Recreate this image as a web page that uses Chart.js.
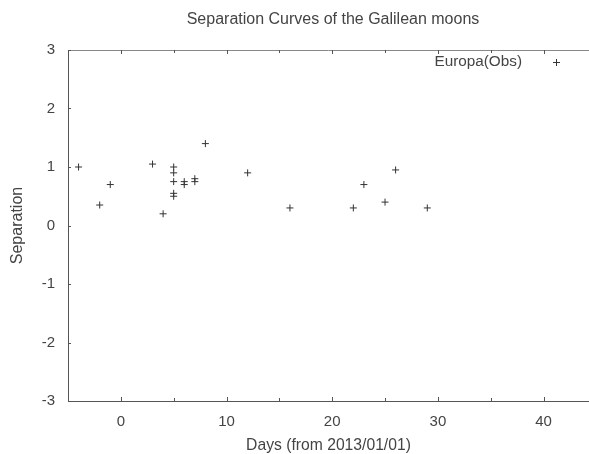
<!DOCTYPE html>
<html><head><meta charset="utf-8">
<script src="https://cdn.jsdelivr.net/npm/chart.js@4"></script>
<style>html,body{margin:0;padding:0;background:#fff}#wrap{width:589px;height:454px}</style>
</head><body><div id="wrap"><canvas id="c" width="589" height="454"></canvas></div>
<script>
const titleText = "Separation Curves of the Galilean moons";
const seriesName = "Europa(Obs)";
const xTitle = "Days (from 2013/01/01)";
const yTitle = "Separation";
const days = [-4, -2, -1, 3, 4, 5, 5, 5, 5, 5, 6, 6, 7, 7, 8, 12, 16, 22, 23, 25, 26, 29];
const separation = [1.0, 0.35, 0.7, 1.05, 0.2, 1.0, 0.9, 0.75, 0.55, 0.5, 0.75, 0.7, 0.8, 0.75, 1.4, 0.9, 0.3, 0.3, 0.7, 0.4, 0.95, 0.3];
const xTicks = [-5, 0, 5, 10, 15, 20, 25, 30, 35, 40];
const xLabeled = [0, 10, 20, 30, 40];
const yTicks = [-3, -2, -1, 0, 1, 2, 3];

const FONT = "'Liberation Sans', Arial, sans-serif";
const TXT = '#444';
const AX = '#555';

const overlay = {
  id: 'overlay',
  afterDraw(chart) {
    const ctx = chart.ctx, a = chart.chartArea;
    const xs = chart.scales.x, ys = chart.scales.y;
    ctx.save();
    ctx.strokeStyle = '#888';
    ctx.lineWidth = 1;
    ctx.beginPath();
    ctx.moveTo(a.left, a.top + 0.5); ctx.lineTo(a.right, a.top + 0.5);
    ctx.stroke();
    ctx.strokeStyle = AX;
    ctx.beginPath();
    xTicks.forEach(v => {
      const px = Math.round(xs.getPixelForValue(v)) + 0.5;
      const len = xLabeled.includes(v) ? 4 : 3;
      ctx.moveTo(px, a.bottom); ctx.lineTo(px, a.bottom - len);
      ctx.moveTo(px, a.top); ctx.lineTo(px, a.top + len);
    });
    yTicks.forEach(v => {
      const py = Math.round(ys.getPixelForValue(v)) + 0.5;
      ctx.moveTo(a.left, py); ctx.lineTo(a.left + 3, py);
    });
    ctx.stroke();
    ctx.fillStyle = TXT;
    ctx.font = '16px ' + FONT;
    ctx.textAlign = 'center';
    ctx.textBaseline = 'middle';
    ctx.fillText(titleText, 333, 20);
    ctx.font = '15.3px ' + FONT;
    ctx.textAlign = 'right';
    ctx.fillText(seriesName, 522, 62);
    ctx.strokeStyle = '#333';
    ctx.beginPath();
    ctx.moveTo(553, 62.5); ctx.lineTo(560, 62.5);
    ctx.moveTo(556.5, 59); ctx.lineTo(556.5, 66);
    ctx.stroke();
    ctx.restore();
  }
};

new Chart(document.getElementById('c'), {
  type: 'scatter',
  data: {
    datasets: [{
      label: seriesName,
      data: days.map((d, i) => ({ x: d, y: separation[i] })),
      pointStyle: 'cross',
      pointRadius: 3.5,
      pointBorderWidth: 1,
      borderColor: '#333',
      backgroundColor: '#333'
    }]
  },
  options: {
    responsive: false,
    animation: false,
    devicePixelRatio: 1,
    layout: { autoPadding: false, padding: { top: 50, left: 0, right: 0, bottom: 0 } },
    plugins: { legend: { display: false }, title: { display: false }, tooltip: { enabled: false } },
    scales: {
      x: {
        type: 'linear', min: -5, max: 44.3,
        afterBuildTicks: s => { s.ticks = xTicks.map(v => ({ value: v })); },
        afterFit: s => { s.height = 53; s.paddingLeft = 0; s.paddingRight = 0; },
        ticks: {
          autoSkip: false, maxRotation: 0, padding: 12, color: TXT,
          font: { family: FONT, size: 15 },
          callback: v => xLabeled.includes(v) ? String(v) : ''
        },
        grid: { display: true, drawOnChartArea: false, drawTicks: false },
        border: { display: true, color: AX, width: 1 },
        title: { display: true, text: xTitle, color: TXT, font: { family: FONT, size: 15.7, lineHeight: 1.0 }, padding: { top: 0, bottom: 0 } }
      },
      y: {
        type: 'linear', min: -3, max: 3,
        afterBuildTicks: s => { s.ticks = yTicks.map(v => ({ value: v })); },
        afterFit: s => { s.width = 68; },
        ticks: { padding: 13, color: TXT, font: { family: FONT, size: 15 } },
        grid: { display: true, drawOnChartArea: false, drawTicks: false },
        border: { display: true, color: AX, width: 1 },
        title: { display: true, text: yTitle, color: TXT, font: { family: FONT, size: 16 }, padding: { top: 8, bottom: 0 } }
      }
    }
  },
  plugins: [overlay]
});
</script>
</body></html>
